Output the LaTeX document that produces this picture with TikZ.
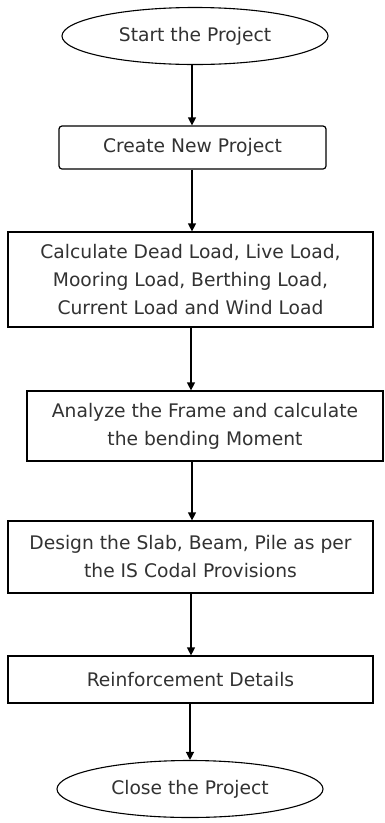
\documentclass[tikz,border=0pt]{standalone}
\usepackage{fontspec}
\setmainfont{DejaVu Sans}
\usetikzlibrary{shapes.geometric,arrows.meta}
\definecolor{txt}{RGB}{50,50,50}
\begin{document}
\begin{tikzpicture}[x=1pt,y=-1pt,
  every node/.style={text=txt,font=\fontsize{18.7}{28}\selectfont,align=center,inner sep=0pt},
  oval/.style={draw=black,line width=1.1pt,ellipse,minimum width=266pt,minimum height=57pt},
  box/.style={draw=black,line width=1.2pt,rectangle},
  arr/.style={draw=black,line width=1.2pt,-{Triangle[width=8pt,length=8pt]}}]
\useasboundingbox[fill=white] (0,0) rectangle (385,823);
\node[oval] (start) at (195,36) {Start the Project};
\node[box,rounded corners=3pt,minimum width=267pt,minimum height=43pt] (create) at (192.5,147.5) {Create New Project};
\node[box,minimum width=365pt,minimum height=95pt] (calc) at (190.5,279.5) {Calculate Dead Load, Live Load,\\Mooring Load, Berthing Load,\\Current Load and Wind Load};
\node[box,minimum width=356pt,minimum height=70pt] (analyze) at (205,426) {Analyze the Frame and calculate\\the bending Moment};
\node[box,minimum width=365pt,minimum height=72pt] (design) at (190.5,557) {Design the Slab, Beam, Pile as per\\the IS Codal Provisions};
\node[box,minimum width=365pt,minimum height=47pt] (reinf) at (190.5,679.5) {Reinforcement Details};
\node[oval] (close) at (190,789) {Close the Project};
\draw[arr] (start.south -| 192,0) -- (create.north -| 192,0);
\draw[arr] (create.south -| 192,0) -- (calc.north -| 192,0);
\draw[arr] (calc.south -| 191,0) -- (analyze.north -| 191,0);
\draw[arr] (analyze.south -| 192,0) -- (design.north -| 192,0);
\draw[arr] (design.south -| 191,0) -- (reinf.north -| 191,0);
\draw[arr] (reinf.south -| 190,0) -- (close.north -| 190,0);
\end{tikzpicture}
\end{document}
